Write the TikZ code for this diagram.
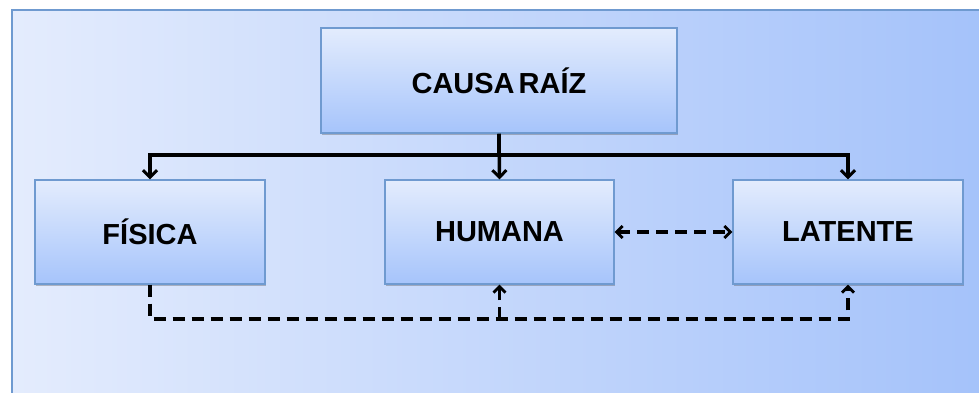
\documentclass[tikz,border=0pt]{standalone}
\usepackage{fontspec}
\setmainfont{Liberation Sans}
\usetikzlibrary{arrows.meta,shadows}
\definecolor{bgleft}{HTML}{E4ECFD}
\definecolor{bgright}{HTML}{A4C2FA}
\definecolor{boxtop}{HTML}{E3ECFD}
\definecolor{boxbottom}{HTML}{A6C4FB}
\definecolor{boxline}{HTML}{6F9AD0}
\tikzset{
  x=1pt, y=-1pt,
  bigbarb/.tip={Straight Barb[length=7pt,width=14pt,line width=3pt]},
  smallbarb/.tip={Straight Barb[length=6pt,width=12pt,line width=2.8pt]},
  causebox/.style={draw=boxline, line width=1.3pt, top color=boxtop, bottom color=boxbottom,
    minimum width=#1, minimum height=104pt, inner sep=0pt,
    font=\fontsize{29}{32}\selectfont\bfseries,
    drop shadow={shadow xshift=1.2pt, shadow yshift=-1.8pt, opacity=0.35, fill=black!70}},
  link/.style={line width=3.5pt, black, -bigbarb},
  dashlink/.style={line width=3.6pt, black, dash pattern=on 12pt off 7pt},
}
\begin{document}
\begin{tikzpicture}
\useasboundingbox (0,0) rectangle (979,393);
% framed backdrop, running past the right and lower edges
\begin{scope}
  \clip (0,0) rectangle (979,393);
  \fill[white] (0,0) rectangle (979,393);
  \shade[left color=bgleft, right color=bgright, draw=boxline, line width=1.3pt]
    (12,10) rectangle (990,405);
\end{scope}

\node[causebox=356pt, minimum height=105pt] (root) at (499,80.5) {CAUSA\hspace{0.14em}RAÍZ};
\node[causebox=230pt] (fisica) at (150,232) {FÍSICA};
\node[causebox=229pt] (humana) at (499.5,232) {HUMANA};
\node[causebox=230pt] (latente) at (848,232) {LATENTE};

% branching from the root
\coordinate (bus) at (499,155);
\coordinate (low) at (0,319);
\draw[line width=3.5pt] (root.south) -- (bus);
\draw[link] (bus) -| (fisica.north);
\draw[link] (bus) -| (latente.north);
\draw[link] (root.south) -- (humana.north);

% dashed relations between the categories
\draw[dashlink, smallbarb-smallbarb] (humana.east) -- (latente.west);
\draw[dashlink, -smallbarb] (fisica.south) |- (low -| latente.south) -- (latente.south);
\draw[dashlink, -smallbarb] (low -| humana.south) -- (humana.south);
\end{tikzpicture}
\end{document}
